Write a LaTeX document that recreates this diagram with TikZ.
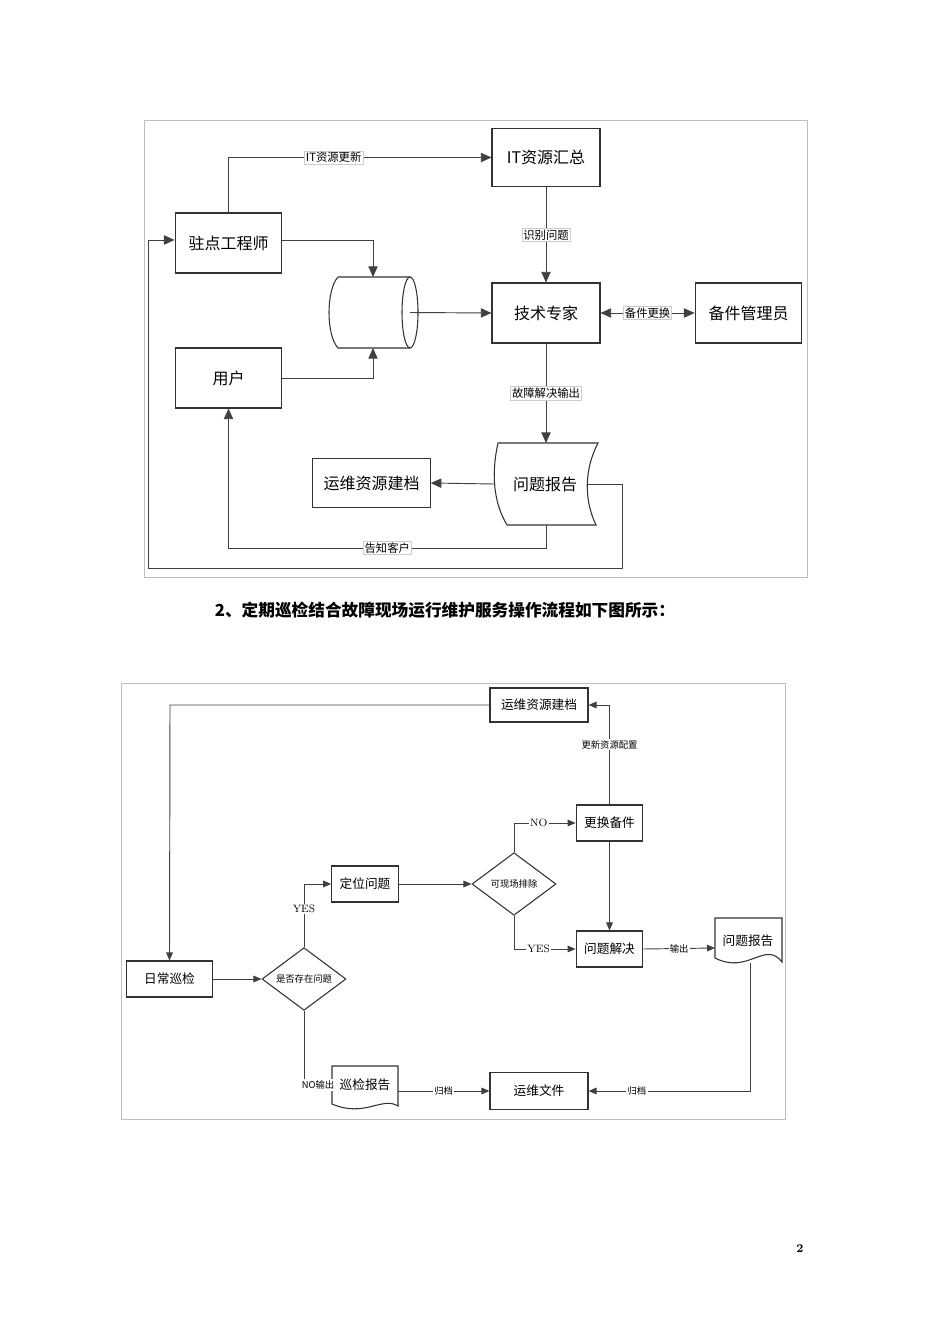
\documentclass[tikz,border=0pt]{standalone}
\usepackage{fontspec}
\newfontfamily\cjk{Noto Sans CJK SC}
\usetikzlibrary{arrows.meta,shapes.geometric}
\begin{document}
\begin{tikzpicture}[x=0.75pt,y=-0.75pt,
  box/.style={draw=black!80,line width=0.8pt,fill=white,inner sep=0pt,font=\cjk\fontsize{12}{12}\selectfont},
  box2/.style={draw=black!80,line width=0.8pt,fill=white,inner sep=0pt,font=\cjk\fontsize{9.5}{10}\selectfont},
  ln/.style={draw=black!75,line width=0.7pt},
  ar/.style={ln,-{Triangle[length=8pt,width=7pt]}},
  ar2/.style={ln,-{Triangle[length=6pt,width=5pt]}},
  lab/.style={fill=white,draw=black!20,line width=0.3pt,inner sep=1pt,font=\cjk\fontsize{8.5}{9}\selectfont},
  lab2/.style={fill=white,inner sep=1pt,font=\cjk\fontsize{7}{8}\selectfont},
  dia/.style={diamond,draw=black!80,line width=0.8pt,fill=white,inner sep=0pt,aspect=1.35,minimum width=63pt,minimum height=47pt,font=\cjk\fontsize{7}{8}\selectfont}]
\useasboundingbox (0,0) rectangle (950,1344);
% ---- diagram 1 ----
\draw[black!25,line width=0.6pt] (144,120) rectangle (807,577);
\node[box,minimum width=81pt,minimum height=44pt] (itsum) at (546,157.5) {IT资源汇总};
\node[box,minimum width=80pt,minimum height=45pt] (eng) at (228.5,243) {驻点工程师};
\node[box,minimum width=81pt,minimum height=45pt] (exp) at (546,313) {技术专家};
\node[box,minimum width=80pt,minimum height=45pt] (spare) at (748.5,313) {备件管理员};
\node[box,minimum width=80pt,minimum height=45pt] (user) at (228.5,378) {用户};
\node[box,minimum width=88pt,minimum height=37pt] (arch1) at (371.5,483) {运维资源建档};
% cylinder
\draw[black!80,line width=0.8pt] (338,277) -- (410,277) (338,348) -- (410,348)
  (338,277) .. controls (326,290) and (326,335) .. (338,348);
\draw[black!80,line width=0.8pt] (410,312.5) ellipse (8 and 35.5);
\coordinate (cyl) at (373,312.5);
\coordinate (cylR) at (410,312.5);
\coordinate (cylT) at (373,277);
\coordinate (cylB) at (373,348);
% report tape
\draw[black!80,line width=0.8pt,fill=white] (498,443) -- (598,443) .. controls (584,470) and (584,500) .. (596,525) -- (507,525) .. controls (492,500) and (492,470) .. (498,443) -- cycle;
\node[font=\cjk\fontsize{12}{12}\selectfont] (rep1) at (545,484) {问题报告};
\coordinate (rep1T) at (546,443);
\coordinate (rep1L) at (494,484);
\coordinate (rep1R) at (588,484);
\coordinate (rep1B) at (546,525);
% connectors
\coordinate (c1) at (228,157);
\draw[ar] (eng.north) |- (itsum.west) node[lab,pos=0.7] {IT资源更新};
\draw[ar] (itsum.south) -- (exp.north) node[lab,midway] {识别问题};
\draw[ar] (eng.east|-0,240) -| (cylT);
\draw[ar] (user.east|-0,378) -| (cylB);
\draw[ar] (cylR) -- (exp.west);
\draw[ar,{Triangle[length=8pt,width=7pt]}-{Triangle[length=8pt,width=7pt]}] (exp.east) -- (spare.west) node[lab,midway] {备件更换};
\draw[ar] (exp.south) -- (rep1T) node[lab,midway] {故障解决输出};
\draw[ar] (rep1L) -- (arch1.east);
\coordinate (k1) at (546,548);
\draw[ar] (rep1B) -- (k1) -| (user.south) node[lab,pos=0.25] {告知客户};
\coordinate (k2) at (622,484);
\coordinate (k3) at (148,568);
\draw[ar] (rep1R) -- (k2) |- (k3) |- (eng.west|-0,240);
% caption
\node[font=\cjk\bfseries\fontsize{12.5}{13}\selectfont] (cap) at (445,610) {2、定期巡检结合故障现场运行维护服务操作流程如下图所示：};
% ---- diagram 2 ----
\draw[black!25,line width=0.6pt] (121,683) rectangle (785,1119);
\node[box2,minimum width=73.5pt,minimum height=25.5pt] (arch2) at (539,705) {运维资源建档};
\node[box2,minimum width=50pt,minimum height=27pt] (swap) at (609.5,823) {更换备件};
\node[box2,minimum width=50pt,minimum height=27pt] (loc) at (365,884) {定位问题};
\node[dia] (can) at (514,884) {可现场排除};
\node[box2,minimum width=50pt,minimum height=27pt] (solve) at (609.5,949) {问题解决};
\node[box2,minimum width=64pt,minimum height=27pt] (daily) at (169.5,979) {日常巡检};
\node[dia] (has) at (304,979) {是否存在问题};
\node[box2,minimum width=73.5pt,minimum height=28pt] (file) at (539,1091) {运维文件};
% documents
\draw[black!80,line width=0.8pt,fill=white] (715,918) -- (782,918) -- (782,962) .. controls (765,940) and (748,975) .. (715,958) -- cycle;
\node[font=\cjk\fontsize{9.5}{10}\selectfont] (rep2) at (748,941) {问题报告};
\draw[black!80,line width=0.8pt,fill=white] (332,1066) -- (398,1066) -- (398,1106) .. controls (382,1096) and (365,1118) .. (332,1104) -- cycle;
\node[font=\cjk\fontsize{9.5}{10}\selectfont] (insp) at (365,1085) {巡检报告};
\coordinate (rep2L) at (715,948);
\coordinate (rep2B) at (750,963);
\coordinate (inspL) at (332,1085);
\coordinate (inspR) at (398,1091);
\coordinate (m1) at (170,705);
\draw[ar2] (arch2.west) -- (m1) -- (daily.north);
\draw[ar2] (swap.north) |- (arch2.east) node[lab2,pos=0.3] {更新资源配置};
\draw[ar2] (daily.east) -- (has.west);
\draw[ar2] (has.north) |- (loc.west) node[lab2,pos=0.3,font=\fontsize{8}{9}\selectfont] {YES};
\draw[ar2] (loc.east) -- (can.west);
\draw[ar2] (can.north) |- (swap.west) node[lab2,pos=0.7,font=\fontsize{8}{9}\selectfont] {NO};
\draw[ar2] (can.south) |- (solve.west) node[lab2,pos=0.7,font=\fontsize{8}{9}\selectfont] {YES};
\draw[ar2] (swap.south) -- (solve.north);
\draw[ar2] (solve.east) -- (rep2L) node[lab2,midway] {输出};
\draw[ar2] (rep2B) |- (file.east) node[lab2,pos=0.85] {归档};
\draw[ar2] (inspR) -- (file.west) node[lab2,midway] {归档};
\draw[ar2] (has.south) |- (inspL) node[lab2,pos=0.75] {NO输出};
\node[font=\bfseries\fontsize{9}{10}\selectfont] (pg) at (800,1249) {2};
\end{tikzpicture}
\end{document}
